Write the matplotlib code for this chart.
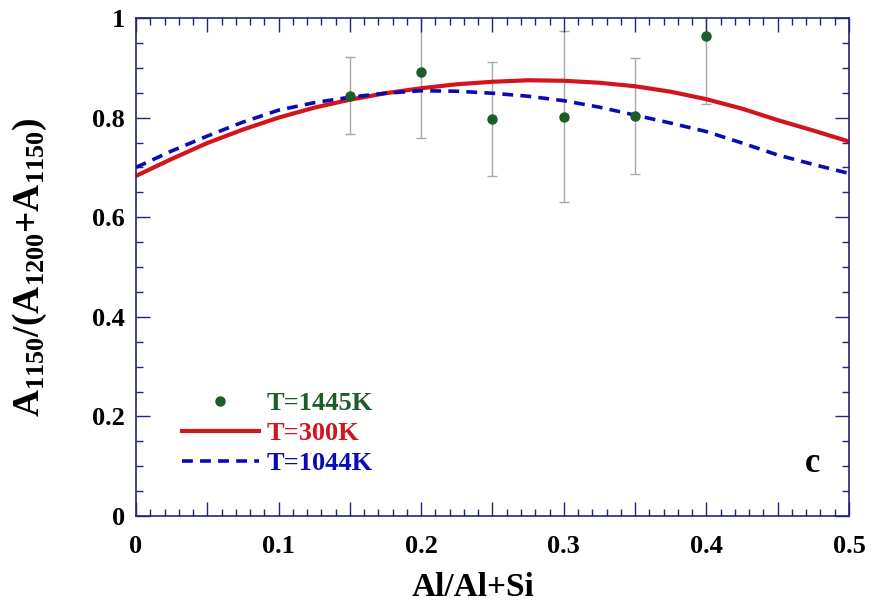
import numpy as np
import matplotlib
matplotlib.use("Agg")
import matplotlib.pyplot as plt
from matplotlib.ticker import MultipleLocator, FuncFormatter

plt.rcParams['font.family'] = 'Liberation Serif'
plt.rcParams['font.weight'] = 'bold'
plt.rcParams['mathtext.fontset'] = 'custom'
plt.rcParams['mathtext.rm'] = 'Liberation Serif:bold'
plt.rcParams['mathtext.it'] = 'Liberation Serif:bold'
plt.rcParams['mathtext.bf'] = 'Liberation Serif:bold'

# --- data ---
# measured points (T=1445K)
pts_x = [0.15, 0.20, 0.25, 0.30, 0.35, 0.40]
pts_y = [0.844, 0.892, 0.797, 0.802, 0.803, 0.964]
pts_err = [0.077, 0.132, 0.115, 0.171, 0.117, 0.137]

# model curves
curve_x = [0.0, 0.025, 0.05, 0.075, 0.1, 0.125, 0.15, 0.175, 0.2, 0.225, 0.25,
           0.275, 0.3, 0.325, 0.35, 0.375, 0.4, 0.425, 0.45, 0.475, 0.5]
red_300 = [0.683, 0.717, 0.749, 0.776, 0.800, 0.820, 0.836, 0.849, 0.859, 0.867, 0.872,
           0.875, 0.874, 0.870, 0.863, 0.852, 0.837, 0.818, 0.795, 0.774, 0.752]
blue_1044 = [0.700, 0.733, 0.763, 0.791, 0.815, 0.830, 0.841, 0.849, 0.854, 0.853, 0.849,
             0.843, 0.834, 0.821, 0.805, 0.789, 0.772, 0.749, 0.725, 0.706, 0.688]

green = '#1b5e2a'
red = '#d2141c'
blue = '#0a0ab4'
navy = '#24247a'

fig = plt.figure(figsize=(8.74, 6.09), dpi=100)
ax = fig.add_axes([0.1556, 0.1527, 0.8158, 0.8177])

ax.errorbar(pts_x, pts_y, yerr=pts_err, fmt='none', ecolor='#a8a8a8',
            elinewidth=1.0, capsize=3.5, capthick=1.0, zorder=1)
ax.plot(curve_x, red_300, color=red, lw=3.0, zorder=2, label='T=300K')
ax.plot(curve_x, blue_1044, color=blue, lw=2.6, ls=(0, (3.0, 2.0)), zorder=3,
        label='T=1044K')
ax.plot(pts_x, pts_y, 'o', color=green, ms=6.5, zorder=4, label='T=1445K')

ax.set_xlim(0, 0.5)
ax.set_ylim(0, 1)

ax.xaxis.set_major_locator(MultipleLocator(0.05))
ax.xaxis.set_minor_locator(MultipleLocator(0.01))
ax.yaxis.set_major_locator(MultipleLocator(0.2))
ax.yaxis.set_minor_locator(MultipleLocator(0.05))


def xfmt(v, pos):
    if abs(v * 10 - round(v * 10)) > 1e-6:
        return ''
    return '0' if abs(v) < 1e-9 else f'{v:g}'


def yfmt(v, pos):
    return '0' if abs(v) < 1e-9 else ('1' if abs(v - 1) < 1e-9 else f'{v:g}')


ax.xaxis.set_major_formatter(FuncFormatter(xfmt))
ax.yaxis.set_major_formatter(FuncFormatter(yfmt))

ax.tick_params(which='both', direction='in', top=True, right=True, color=navy,
               width=1.0, labelsize=19)
ax.tick_params(axis='x', pad=14)
ax.tick_params(axis='y', pad=8)
ax.tick_params(which='major', length=10)
ax.tick_params(which='minor', length=5)
for s in ax.spines.values():
    s.set_color(navy)
    s.set_linewidth(1.2)

ax.set_xlabel('Al/Al+Si', fontsize=24, fontweight='bold')
ax.xaxis.set_label_coords(0.472, -0.112)
ax.set_ylabel(r'$\mathrm{A_{1150}/(A_{1200}{+}A_{1150})}$', fontsize=27)
ax.yaxis.set_label_coords(-0.122, 0.5)

handles, labels = ax.get_legend_handles_labels()
order = [2, 0, 1]
leg = ax.legend([handles[i] for i in order], [labels[i] for i in order],
                loc='upper left', bbox_to_anchor=(0.046, 0.276), frameon=False,
                fontsize=19, handlelength=2.9, handletextpad=0.3,
                labelspacing=0.24, borderpad=0,
                labelcolor=[green, red, blue])

ax.text(0.949, 0.106, 'c', transform=ax.transAxes, fontsize=25,
        fontweight='bold', ha='center', va='center')

fig.savefig('out.png', dpi=100)
